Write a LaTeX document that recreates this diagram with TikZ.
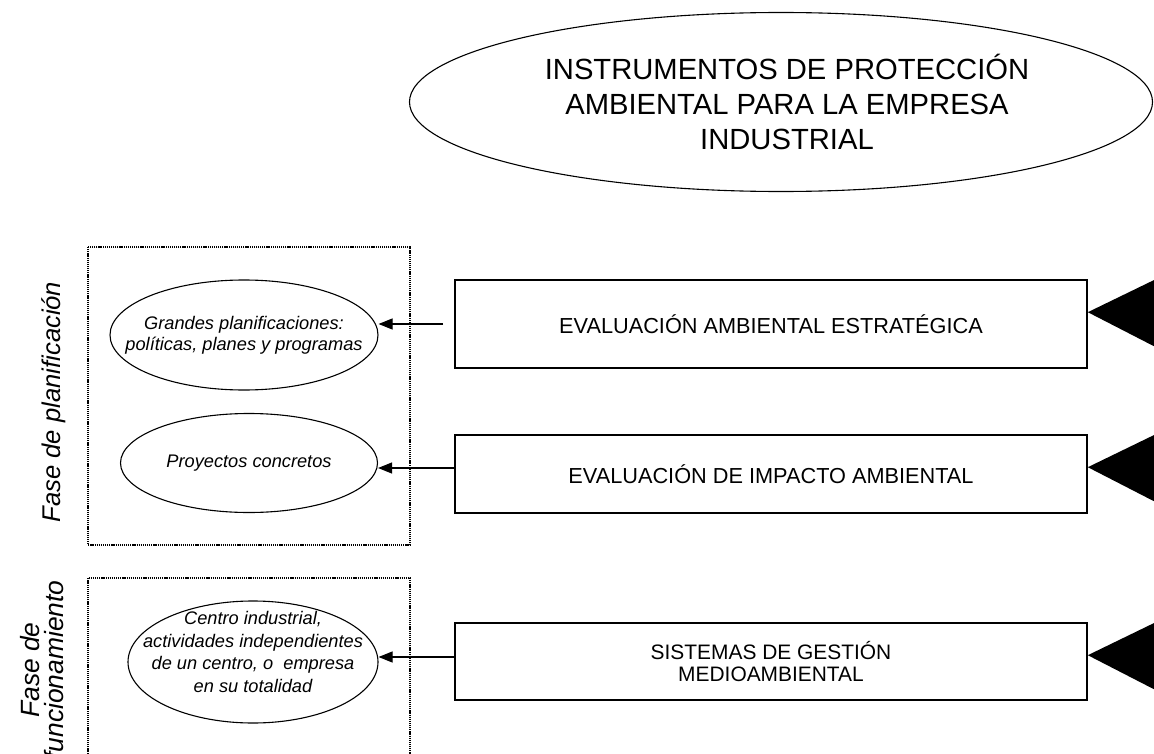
\documentclass[tikz,border=0pt]{standalone}
\usepackage{fontspec}
\setmainfont{Liberation Sans}
\usetikzlibrary{shapes.geometric,arrows.meta,calc}
\begin{document}
\begin{tikzpicture}[x=1bp,y=-1bp,
  ell/.style={ellipse,draw,line width=1.1bp,inner sep=0pt},
  instr/.style={rectangle,draw,line width=1.6bp,minimum width=632bp,inner sep=0pt,
    font=\fontsize{21.8}{23}\selectfont,align=center},
  phasebox/.style={line width=1.2bp,dash pattern=on 1.2bp off 0.9bp},
  arr/.style={line width=1.1bp,-{Triangle[length=14bp,width=11bp]}},
  small/.style={font=\fontsize{18.3}{21.5}\selectfont\itshape,align=center},
  phaselabel/.style={rotate=90,inner sep=0pt,align=center}]
\useasboundingbox (0,0) rectangle (1154,754);
\clip (0,0) rectangle (1154,754);

% title
\node[ell,minimum width=743bp,minimum height=179bp,
  label={[xshift=6bp,font=\fontsize{29.3}{35}\selectfont,align=center]center:{INSTRUMENTOS DE PROTECCIÓN\\AMBIENTAL PARA LA EMPRESA\\INDUSTRIAL}}]
  (title) at (781,102) {};

% phase frames
\draw[phasebox] (88,247) rectangle (410,545);
\draw[phasebox] (88,760) -- (88,578) -- (410,578) -- (410,760);

% phase labels
\node[phaselabel,font=\fontsize{25.7}{30}\selectfont\itshape] (lp) at (54,402) {Fase de planificación};
\node[phaselabel,font=\fontsize{26.5}{24}\selectfont\itshape] (lf) at (42,670) {Fase de\\funcionamiento};

% ellipses
\node[ell,minimum width=268bp,minimum height=110bp,
  label={[small]center:{Grandes planificaciones:\\políticas, planes y programas}}]
  (e1) at (244,335) {};
\node[ell,minimum width=257bp,minimum height=99bp,
  label={[small]center:{Proyectos concretos}}]
  (e2) at (249,463) {};
\node[ell,minimum width=250bp,minimum height=122bp,
  label={[yshift=10bp,small,font=\fontsize{18.3}{22.7}\selectfont\itshape]center:{Centro industrial,\\actividades independientes\\de un centro, o~ empresa\\en su totalidad}}]
  (e3) at (253,662) {};

% instrument boxes
\node[instr,minimum height=88bp] (b1) at (771,324) {EVALUACIÓN AMBIENTAL ESTRATÉGICA};
\node[instr,minimum height=78bp] (b2) at (771,474) {EVALUACIÓN DE IMPACTO AMBIENTAL};
\node[instr,minimum height=77bp,font=\fontsize{21}{22.5}\selectfont] (b3) at (771,661.5) {SISTEMAS DE GESTIÓN\\MEDIOAMBIENTAL};

% arrows
\draw[arr,shorten <=11bp] (b1.west) -- (b1.west -| e1.east);
\draw[arr] ($(b2.west)+(0,-6)$) coordinate (s2) -- (s2 -| e2.east);
\draw[arr] ($(b3.west)+(0,-4.5)$) coordinate (s3) -- (s3 -| e3.east);

% black triangles
\foreach \b in {b1,b2,b3}{
  \fill ($(\b.north east)+(70,-1)$) -- ($(\b.north east)+(0,33)$) -- ($(\b.north east)+(70,69)$) -- cycle;
}
\end{tikzpicture}
\end{document}
